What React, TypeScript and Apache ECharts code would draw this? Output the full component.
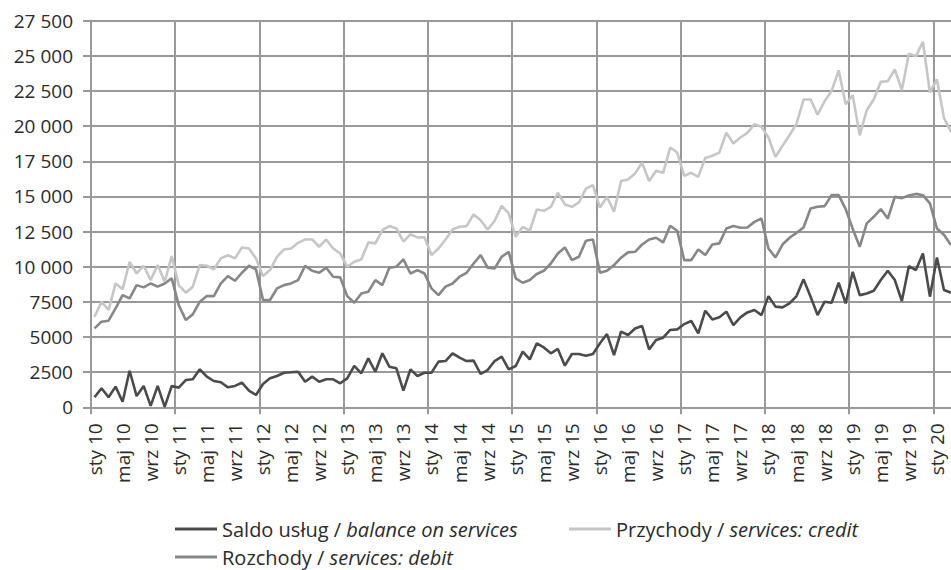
import React, { useEffect, useRef } from "react";
import * as echarts from "echarts";

const MONTHS = ["sty", "lut", "mar", "kwi", "maj", "cze", "lip", "sie", "wrz", "paź", "lis", "gru"];
const YEARS = ["10", "11", "12", "13", "14", "15", "16", "17", "18", "19", "20"];
const N_POINTS = 123; // sty 10 .. mar 20

const categories: string[] = [];
YEARS.forEach((y) => MONTHS.forEach((m) => categories.push(`${m} ${y}`)));
const CATEGORIES = categories.slice(0, N_POINTS);

const SERIES_NAMES = [
  "Saldo usług / balance on services",
  "Przychody / services: credit",
  "Rozchody / services: debit",
];

const balance = [
  710, 1350, 710, 1470, 400, 2600, 800, 1520, 100, 1520, 30, 1520,
  1400, 1940, 1990, 2700, 2180, 1870, 1780, 1420, 1520, 1750, 1180, 880,
  1660, 2060, 2230, 2460, 2490, 2530, 1820, 2180, 1820, 1990, 1990, 1710,
  2060, 2940, 2420, 3480, 2530, 3840, 2890, 2770, 1180, 2700, 2230, 2460,
  2460, 3250, 3290, 3840, 3530, 3290, 3320, 2370, 2650, 3290, 3600, 2700,
  2940, 3960, 3410, 4550, 4260, 3840, 4150, 2960, 3790, 3790, 3670, 3790,
  4550, 5210, 3720, 5380, 5140, 5610, 5780, 4120, 4790, 4950, 5500, 5540,
  5920, 6140, 5260, 6870, 6250, 6400, 6800, 5850, 6400, 6750, 6920, 6560,
  7910, 7160, 7110, 7390, 7910, 9100, 7870, 6560, 7510, 7440, 8860, 7390,
  9640, 7980, 8100, 8290, 9050, 9710, 9050, 7560, 10040, 9760, 10940, 7870,
  10660, 8340, 8150,
];

const credit = [
  6440, 7510, 6920, 8810, 8390, 10350, 9520, 10070, 9050, 10120, 8930, 10750,
  8690, 8150, 8580, 10120, 10070, 9810, 10590, 10830, 10590, 11370, 11300, 10590,
  9330, 9760, 10710, 11230, 11300, 11700, 11940, 11940, 11420, 11940, 11300, 10940,
  10000, 10350, 10520, 11730, 11660, 12600, 12890, 12720, 11780, 12300, 12090, 12090,
  10830, 11300, 11940, 12650, 12840, 12890, 13720, 13310, 12650, 13270, 14330, 13790,
  12130, 12840, 12560, 14070, 13980, 14260, 15260, 14430, 14260, 14570, 15560, 15800,
  14210, 14970, 13910, 16090, 16200, 16630, 17390, 16090, 16820, 16680, 18480, 18120,
  16460, 16680, 16390, 17740, 17890, 18120, 19540, 18760, 19190, 19520, 20140, 19950,
  19190, 17810, 18600, 19350, 20180, 21890, 21890, 20820, 21770, 22510, 23970, 21560,
  22200, 19350, 21130, 21900, 23150, 23200, 24030, 22550, 25160, 24970, 25990, 22400,
  23320, 20580, 19590,
];

const debit = [
  5610, 6090, 6160, 7040, 7980, 7750, 8690, 8530, 8810, 8580, 8810, 9170,
  7270, 6210, 6610, 7510, 7910, 7910, 8810, 9330, 9000, 9570, 10070, 9810,
  7630, 7630, 8460, 8690, 8810, 9050, 10070, 9710, 9570, 9930, 9290, 9240,
  7910, 7440, 8100, 8220, 9050, 8690, 9930, 10000, 10520, 9520, 9760, 9520,
  8460, 7980, 8580, 8810, 9290, 9570, 10230, 10830, 9930, 9880, 10710, 11060,
  9170, 8860, 9050, 9480, 9710, 10230, 10940, 11370, 10470, 10710, 11850, 11940,
  9570, 9710, 10120, 10640, 11020, 11060, 11580, 11940, 12060, 11730, 12910, 12560,
  10470, 10470, 11230, 10830, 11580, 11660, 12720, 12890, 12770, 12790, 13190, 13430,
  11300, 10660, 11580, 12060, 12410, 12790, 14140, 14260, 14310, 15090, 15090, 14100,
  12700, 11420, 13080, 13550, 14100, 13430, 14970, 14880, 15060, 15180, 15090, 14500,
  12720, 12270, 11540,
];

const Y_MIN = 0;
const Y_MAX = 27500;
const Y_STEP = 2500;

const FONT = "Open Sans";
const GRID_COLOR = "#999999";
const TEXT_COLOR = "#2b2b2b";
const COLORS = ["#4b4b4b", "#c6c6c6", "#878787"];

function fmtY(v: number): string {
  if (v < 10000) return String(v);
  const th = Math.floor(v / 1000);
  const rest = String(v % 1000).padStart(3, "0");
  return `${th} ${rest}`;
}

function legendFormatter(name: string): string {
  const [pl, en] = name.split(" / ");
  return `{n|${pl} / }{i|${en}}`;
}

export default function App() {
  const ref = useRef<HTMLDivElement>(null);

  useEffect(() => {
    if (!ref.current) return;
    const chart = echarts.init(ref.current, undefined, { renderer: "svg" });
    const LF = 20;
    const legendText = {
      fontFamily: FONT,
      fontSize: LF,
      color: TEXT_COLOR,
      lineHeight: 22,
      rich: {
        n: { fontFamily: FONT, fontSize: LF, color: TEXT_COLOR, lineHeight: 22 },
        i: { fontFamily: FONT, fontSize: LF, color: TEXT_COLOR, fontStyle: "italic", lineHeight: 22 },
      },
    };
    const legendBase = {
      orient: "horizontal",
      icon: "rect",
      itemWidth: 42,
      itemHeight: 3,
      selectedMode: false,
      formatter: legendFormatter,
      textStyle: legendText,
      padding: 0,
    };
    const values = [balance, credit, debit];
    chart.setOption({
      animation: false,
      backgroundColor: "#ffffff",
      grid: { left: 91, top: 20.7, width: 863.5, height: 386.6, containLabel: false },
      legend: [
        { ...legendBase, data: [SERIES_NAMES[0]], left: 175, top: 518 },
        { ...legendBase, data: [SERIES_NAMES[1]], left: 569, top: 518 },
        { ...legendBase, data: [SERIES_NAMES[2]], left: 175, top: 546 },
      ],
      xAxis: {
        type: "category",
        data: CATEGORIES,
        boundaryGap: true,
        axisLine: { show: true, lineStyle: { color: GRID_COLOR, width: 2 } },
        axisTick: {
          show: true,
          interval: (i: number) => i % 12 === 0,
          length: 7,
          lineStyle: { color: GRID_COLOR, width: 2 },
        },
        splitLine: {
          show: true,
          interval: (i: number) => i % 12 === 0,
          lineStyle: { color: GRID_COLOR, width: 2 },
        },
        axisLabel: {
          interval: (i: number) => i % 4 === 0,
          rotate: 90,
          margin: 16,
          fontFamily: FONT,
          fontSize: 19,
          color: TEXT_COLOR,
        },
      },
      yAxis: {
        type: "value",
        min: Y_MIN,
        max: Y_MAX,
        interval: Y_STEP,
        axisLine: { show: true, lineStyle: { color: GRID_COLOR, width: 2 } },
        axisTick: { show: true, length: 8, lineStyle: { color: GRID_COLOR, width: 2 } },
        splitLine: { show: true, lineStyle: { color: GRID_COLOR, width: 2 } },
        axisLabel: {
          formatter: fmtY,
          margin: 18,
          fontFamily: FONT,
          fontSize: 19,
          color: TEXT_COLOR,
        },
      },
      series: SERIES_NAMES.map((name, k) => ({
        name,
        type: "line",
        data: values[k],
        symbol: "none",
        color: COLORS[k],
        lineStyle: { color: COLORS[k], width: 2.6 },
        z: 3 - k,
      })),
    });
    return () => chart.dispose();
  }, []);

  return (
    <div
      style={{
        position: "absolute",
        left: 0,
        top: 0,
        width: 951,
        height: 570,
        overflow: "hidden",
        background: "#fff",
      }}
    >
      <div ref={ref} style={{ width: 1000, height: 570 }} />
    </div>
  );
}
